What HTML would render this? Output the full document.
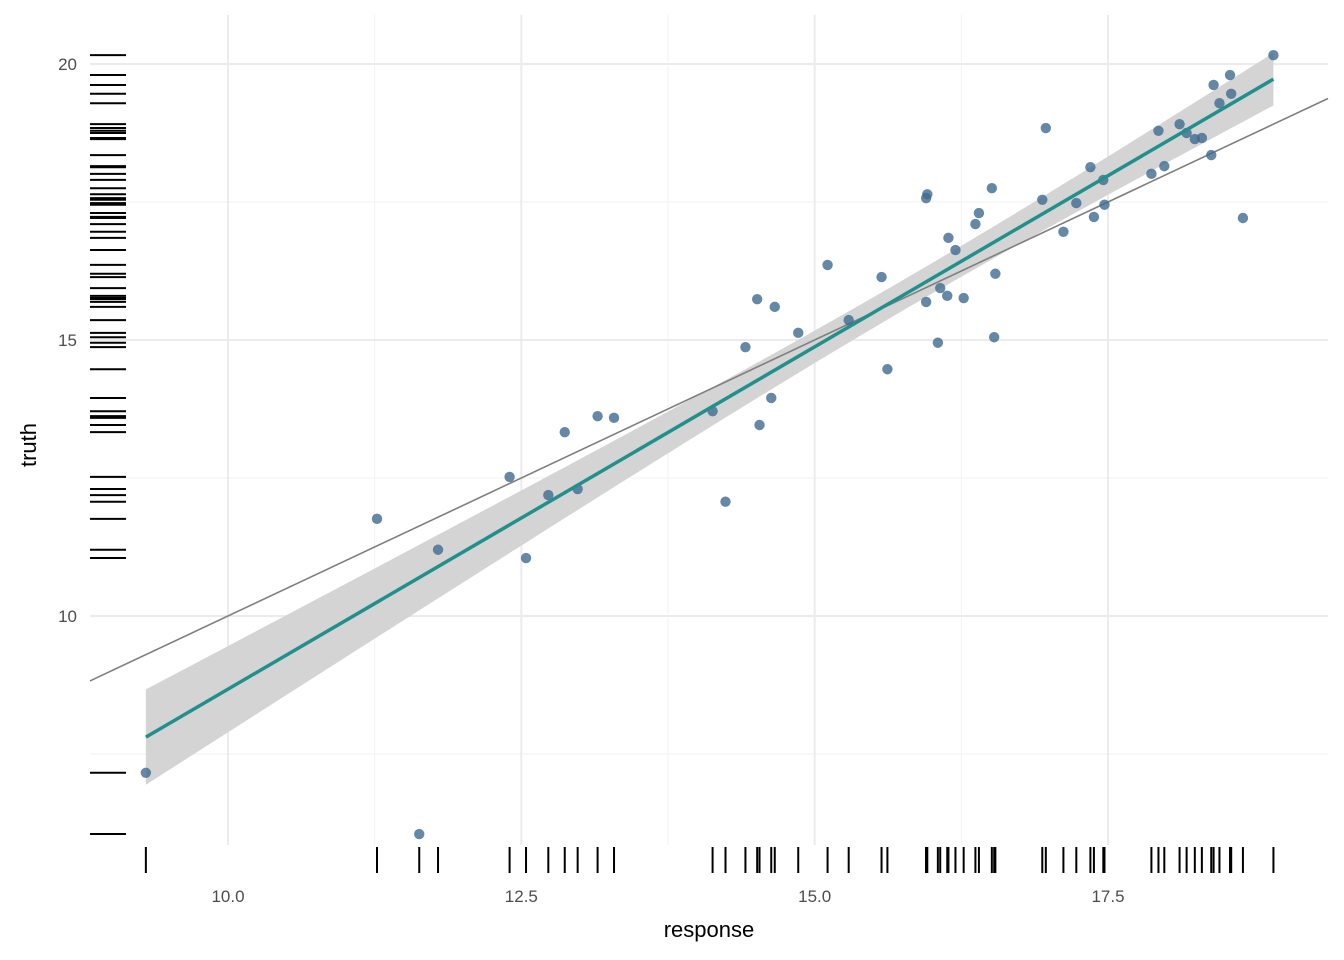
<!DOCTYPE html>
<html><head><meta charset="utf-8"><style>body{margin:0;background:#fff}svg{display:block;font-family:"Liberation Sans",sans-serif}</style></head>
<body>
<svg id="chart" width="1344" height="960" viewBox="0 0 1344 960"></svg>
<script>
const responseVals=[9.30,11.27,11.63,11.79,12.40,12.54,12.73,12.87,12.98,13.15,13.29,14.13,14.24,14.41,14.51,14.53,14.63,14.66,14.86,15.11,15.29,15.57,15.62,15.95,15.96,15.95,16.05,16.07,16.13,16.14,16.20,16.27,16.37,16.40,16.51,16.54,16.53,16.94,16.97,17.12,17.23,17.35,17.38,17.46,17.47,17.87,17.93,17.98,18.11,18.17,18.24,18.30,18.38,18.40,18.45,18.54,18.55,18.65,18.91];
const truthVals=[7.16,11.76,6.05,11.20,12.52,11.05,12.19,13.33,12.30,13.62,13.59,13.71,12.07,14.87,15.74,13.46,13.95,15.60,15.13,16.36,15.36,16.14,14.47,17.57,17.64,15.69,14.95,15.94,15.80,16.85,16.63,15.76,17.10,17.30,17.75,16.20,15.05,17.54,18.84,16.96,17.48,18.13,17.23,17.90,17.45,18.01,18.79,18.15,18.91,18.75,18.64,18.66,18.35,19.62,19.29,19.80,19.46,17.21,20.16];
const xTicks=[10,12.5,15,17.5];
const xTickLabels=["10.0","12.5","15.0","17.5"];
const yTicks=[10,15,20];
const yTickLabels=["10","15","20"];
const xMinor=[11.25,13.75,16.25];
const yMinor=[7.5,12.5,17.5];
const NS="http://www.w3.org/2000/svg";
const svg=document.getElementById('chart');
const L=90,R=1328,T=15,B=845;
const X=v=>228+(v-10)*117.333;
const Y=v=>616-(v-10)*55.2;
function el(tag,attrs,parent){const e=document.createElementNS(NS,tag);for(const k in attrs)e.setAttribute(k,attrs[k]);(parent||svg).appendChild(e);return e;}
const grid=el('g',{});
xMinor.forEach(v=>{const l=el('line',{x1:X(v),x2:X(v),y1:T,y2:B,stroke:'#f2f2f2','stroke-width':1},grid);});
yMinor.forEach(v=>{const l=el('line',{x1:L,x2:R,y1:Y(v),y2:Y(v),stroke:'#f2f2f2','stroke-width':1},grid);});
xTicks.forEach((v,i)=>{const l=el('line',{x1:X(v),x2:X(v),y1:T,y2:B,stroke:'#ebebeb','stroke-width':2},grid);
 const t=el('text',{x:X(v),y:902,'text-anchor':'middle','font-size':17,fill:'#4d4d4d'});t.textContent=xTickLabels[i];});
yTicks.forEach((v,i)=>{const l=el('line',{x1:L,x2:R,y1:Y(v),y2:Y(v),stroke:'#ebebeb','stroke-width':2},grid);
 const t=el('text',{x:77,y:Y(v)+6,'text-anchor':'end','font-size':17,fill:'#4d4d4d'});t.textContent=yTickLabels[i];});
const n=responseVals.length;const mx=responseVals.reduce((a,b)=>a+b)/n,my=truthVals.reduce((a,b)=>a+b)/n;
let sxx=0,sxy=0;for(let i=0;i<n;i++){sxx+=(responseVals[i]-mx)**2;sxy+=(responseVals[i]-mx)*(truthVals[i]-my);}
const b=sxy/sxx,a=my-b*mx;let sse=0;for(let i=0;i<n;i++)sse+=(truthVals[i]-a-b*responseVals[i])**2;
const s=Math.sqrt(sse/(n-2));const tq=2.0;
const xmin=Math.min(...responseVals),xmax=Math.max(...responseVals);
let up=[],lo=[];for(let k=0;k<=80;k++){const x=xmin+(xmax-xmin)*k/80;const f=a+b*x;const se=s*Math.sqrt(1/n+(x-mx)**2/sxx);up.push(X(x)+','+Y(f+tq*se));lo.push(X(x)+','+Y(f-tq*se));}
const band=el('polygon',{points:up.concat(lo.reverse()).join(' '),fill:'#d4d4d4'});
const id=el('line',{x1:L,y1:Y(8.824),x2:R,y2:Y(8.824+(R-L)/117.333),stroke:'#7f7f7f','stroke-width':1.6});
const pts=el('g',{});
for(let i=0;i<n;i++){const c=el('circle',{cx:X(responseVals[i]),cy:Y(truthVals[i]),r:5.2,fill:'#3e6a90','fill-opacity':0.8},pts);}
const fit=el('line',{x1:X(xmin),y1:Y(a+b*xmin),x2:X(xmax),y2:Y(a+b*xmax),stroke:'#21908c','stroke-width':3.5});
const rx=el('g',{});
const ry=el('g',{});
for(let i=0;i<n;i++){const l=el('line',{x1:X(responseVals[i]),x2:X(responseVals[i]),y1:847,y2:873,stroke:'#000','stroke-width':2},rx);
 const m=el('line',{x1:90,x2:126,y1:Y(truthVals[i]),y2:Y(truthVals[i]),stroke:'#000','stroke-width':2},ry);}
const xt=el('text',{x:709,y:937,'text-anchor':'middle','font-size':22,fill:'#000'});xt.textContent='response';
const yt=el('text',{x:36,y:445,'text-anchor':'middle','font-size':22,fill:'#000',transform:'rotate(-90 36 445)'});yt.textContent='truth';
</script>
</body></html>
